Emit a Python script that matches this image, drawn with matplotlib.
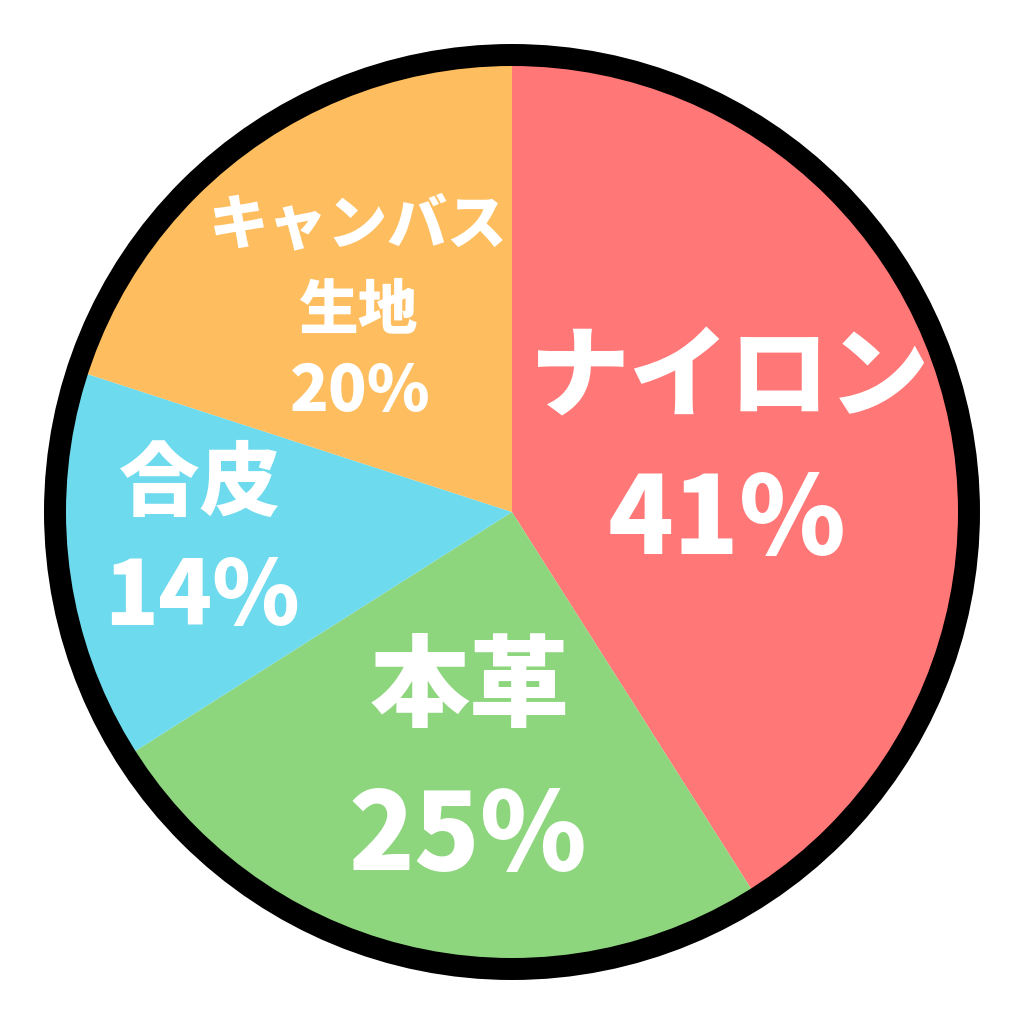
import matplotlib.pyplot as plt
from matplotlib.patches import Circle

plt.rcParams['font.family'] = ['Noto Sans CJK JP', 'DejaVu Sans']

# data
labels = ['ナイロン', '本革', '合皮', 'キャンバス\n生地']
values = [41, 25, 14, 20]
colors = ['#FF7776', '#8DD67E', '#6DDAEE', '#FEBE5F']

R = 447.0  # pixel radius of the coloured disc


def px(x, y):
    # pixel position on the 1024 canvas -> data coords
    return (x - 512) / R, (512 - y) / R


fig = plt.figure(figsize=(10.24, 10.24), dpi=100)
ax = fig.add_axes([0, 0, 1, 1])
ax.pie(values, colors=colors, startangle=90, counterclock=False,
       radius=1, center=(0, 0), wedgeprops=dict(linewidth=0))
ax.add_patch(Circle((0, 0), 1 + 10 / R, fill=False, edgecolor='black',
                    linewidth=22 * 0.72))
ax.set_xlim(-512 / R, 512 / R)
ax.set_ylim(-512 / R, 512 / R)
ax.set_aspect('equal')
ax.axis('off')

big = dict(color='white', fontweight='heavy', ha='center', va='center')

# labels drawn inside the slices
ax.text(*px(730, 380), labels[0], fontsize=72, **big)
ax.text(*px(727, 522), f'{values[0]}%', fontsize=78, **big)
ax.text(*px(470, 690), labels[1], fontsize=72, **big)
ax.text(*px(468, 838), f'{values[1]}%', fontsize=78, **big)
ax.text(*px(200, 485), labels[2], fontsize=58, **big)
ax.text(*px(202, 598), f'{values[2]}%', fontsize=64, **big)
ax.text(*px(358, 225), 'キャンバス', fontsize=43, **big)
ax.text(*px(358, 310), '生地', fontsize=43, **big)
ax.text(*px(360, 392), f'{values[3]}%', fontsize=46, **big)

plt.savefig('out.png', dpi=100, facecolor='white')
